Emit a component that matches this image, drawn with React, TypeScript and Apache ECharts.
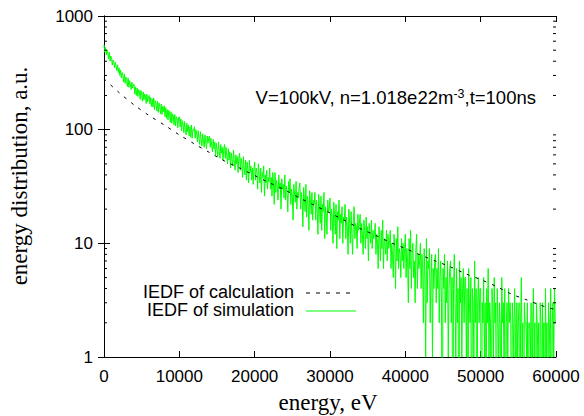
import React, { useEffect, useRef } from "react";
import * as echarts from "echarts";

// Simulation histogram: counts per 100 eV bin, from 0 eV to 60000 eV
const SIM_BIN_EV = 100;
const simCounts = [
  560, 480, 530, 455, 505, 470, 420, 480, 400, 445, 430, 370, 410, 395, 350, 392, 365, 330, 372, 318,
  350, 300, 335, 285, 318, 300, 262, 310, 255, 290, 276, 240, 285, 236, 270, 248, 226, 262, 232, 250,
  250, 205, 238, 200, 232, 196, 225, 215, 185, 222, 205, 178, 215, 182, 206, 200, 170, 205, 176, 194,
  200, 168, 192, 160, 186, 158, 190, 150, 180, 170, 146, 178, 142, 172, 160, 138, 168, 136, 160, 144,
  162, 130, 156, 126, 150, 122, 148, 140, 116, 144, 114, 138, 132, 110, 136, 108, 130, 126, 104, 128,
  130, 106, 124, 98, 120, 112, 94, 118, 100, 90, 114, 96, 110, 88, 106, 86, 110, 84, 100, 98,
  106, 84, 100, 92, 78, 98, 84, 74, 96, 82, 72, 92, 80, 70, 90, 78, 68, 88, 76, 84,
  88, 70, 84, 72, 64, 82, 68, 78, 60, 76, 66, 58, 78, 64, 56, 74, 62, 70, 54, 68,
  74, 56, 70, 58, 50, 68, 54, 64, 46, 62, 54, 48, 66, 52, 44, 60, 50, 58, 42, 56,
  62, 44, 56, 50, 38, 58, 46, 40, 54, 36, 52, 44, 34, 54, 42, 48, 36, 46, 33, 45,
  52, 36, 46, 42, 30, 50, 40, 34, 46, 28, 42, 38, 48, 26, 40, 34, 44, 30, 38, 35,
  46, 30, 38, 26, 42, 34, 22, 42, 28, 36, 32, 24, 40, 30, 34, 20, 37, 30, 33, 25,
  40, 24, 32, 28, 19, 35, 28, 37, 22, 30, 26, 16, 33, 27, 23, 35, 20, 28, 25, 31,
  34, 20, 28, 24, 14, 31, 25, 19, 33, 17, 26, 23, 13, 29, 24, 18, 28, 16, 24, 22,
  28, 16, 24, 20, 12, 27, 21, 15, 26, 13, 22, 19, 28, 11, 21, 18, 12, 24, 19, 20,
  25, 13, 20, 17, 10, 23, 18, 12, 22, 9, 19, 16, 24, 11, 18, 15, 21, 10, 17, 16,
  22, 11, 17, 14, 8, 20, 15, 10, 19, 12, 8, 16, 21, 11, 15, 14, 9, 18, 13, 15,
  18, 10, 15, 12, 8, 16, 13, 9, 17, 11, 14, 7, 15, 12, 10, 16, 9, 13, 11, 12,
  15, 8, 12, 10, 6, 14, 11, 7, 13, 9, 16, 6, 11, 10, 8, 13, 7, 12, 9, 10,
  13, 6, 10, 8, 5, 12, 9, 4, 11, 7, 14, 6, 9, 8, 5, 11, 7, 10, 6, 9,
  12, 5, 9, 7, 3, 11, 6, 13, 4, 8, 10, 5, 7, 3, 9, 12, 4, 8, 6, 7,
  10, 4, 8, 6, 2, 9, 5, 1, 11, 3, 7, 6, 9, 2, 5, 8, 1, 6, 4, 7,
  8, 3, 6, 4, 9, 2, 5, 7, 3, 0, 6, 4, 8, 2, 5, 3, 7, 1, 4, 6,
  7, 2, 5, 0, 4, 8, 3, 1, 6, 2, 4, 0, 7, 3, 5, 1, 4, 6, 2, 5,
  5, 1, 4, 0, 6, 3, 2, 5, 0, 4, 3, 1, 7, 2, 4, 0, 3, 5, 2, 4,
  4, 0, 3, 2, 5, 1, 3, 0, 4, 2, 6, 1, 3, 2, 0, 4, 3, 1, 5, 2,
  3, 0, 4, 2, 1, 3, 2, 0, 5, 2, 3, 1, 4, 0, 2, 3, 1, 4, 2, 3,
  2, 0, 3, 2, 1, 4, 2, 0, 3, 1, 2, 3, 0, 2, 5, 1, 2, 0, 3, 2,
  2, 1, 3, 0, 2, 2, 1, 3, 0, 2, 4, 1, 2, 0, 3, 2, 1, 2, 0, 3,
  2, 0, 3, 1, 2, 0, 4, 1, 2, 0, 3, 2, 1, 4, 0, 2, 3, 1, 4, 2,
  2,
];

// Calculated IEDF
const calcEnergy = [
  0, 2000, 4000, 6000, 8000, 10000, 12000, 14000, 16000, 18000,
  20000, 22000, 24000, 26000, 28000, 30000, 32000, 34000, 36000, 38000,
  40000, 42000, 44000, 46000, 48000, 50000, 52000, 54000, 56000, 58000, 60000,
];
const calcValues = [
  280, 212, 165, 133, 110, 90, 75, 63, 53, 46,
  39.5, 34, 29.5, 25, 21.5, 18.5, 15.8, 13.5, 11.8, 10.2,
  9.0, 7.9, 7.0, 6.2, 5.4, 4.8, 4.2, 3.6, 3.2, 2.85, 2.6,
];

const xTickValues = [0, 10000, 20000, 30000, 40000, 50000, 60000];
const yDecades = [1, 10, 100, 1000];

const SANS = "'Liberation Sans', Arial, Helvetica, sans-serif";
const SERIF = "'Liberation Serif', 'Times New Roman', serif";

export default function App() {
  const ref = useRef<HTMLDivElement>(null);

  useEffect(() => {
    if (!ref.current) return;
    const chart = echarts.init(ref.current, null, { renderer: "svg" });

    const simData = simCounts.map((c, i) => [i * SIM_BIN_EV, c > 0 ? c : 0.05]);
    const calcData = calcEnergy.map((e, i) => [e, calcValues[i]]);

    const minorTicks: number[][] = [];
    for (let d = 0; d < yDecades.length - 1; d++) {
      for (let k = 2; k <= 9; k++) minorTicks.push([0, yDecades[d] * k]);
    }

    const xMin = xTickValues[0];
    const xMax = xTickValues[xTickValues.length - 1];
    const yMin = yDecades[0];
    const yMax = yDecades[yDecades.length - 1];

    const axisLine = { show: true, lineStyle: { color: "#000", width: 1 } };
    const tick = { show: true, inside: true, length: 6, lineStyle: { color: "#000", width: 1 } };
    const plain = (v: number) => String(v);

    chart.setOption({
      animation: false,
      backgroundColor: "#fff",
      grid: { left: 104, right: 28, top: 16, bottom: 59, containLabel: false },
      xAxis: [
        {
          type: "value",
          min: xMin,
          max: xMax,
          interval: 10000,
          axisLine,
          axisTick: tick,
          splitLine: { show: false },
          axisLabel: { color: "#000", fontFamily: SANS, fontSize: 17, margin: 11, formatter: plain },
        },
        {
          type: "value",
          position: "top",
          min: xMin,
          max: xMax,
          interval: 10000,
          axisLine,
          axisTick: tick,
          splitLine: { show: false },
          axisLabel: { show: false },
        },
      ],
      yAxis: [
        {
          type: "log",
          logBase: 10,
          min: yMin,
          max: yMax,
          axisLine,
          axisTick: tick,
          splitLine: { show: false },
          axisLabel: { color: "#000", fontFamily: SANS, fontSize: 17, margin: 11, formatter: plain },
        },
        {
          type: "log",
          logBase: 10,
          position: "right",
          min: yMin,
          max: yMax,
          axisLine,
          axisTick: tick,
          splitLine: { show: false },
          axisLabel: { show: false },
        },
      ],
      series: [
        {
          type: "line",
          name: "IEDF of simulation",
          data: simData,
          showSymbol: false,
          symbol: "none",
          clip: true,
          lineStyle: { color: "#00ff00", width: 1 },
          z: 2,
        },
        {
          type: "line",
          name: "IEDF of calculation",
          data: calcData,
          showSymbol: false,
          symbol: "none",
          smooth: 0.3,
          clip: true,
          lineStyle: { color: "#000", width: 1, type: [3, 6] },
          z: 3,
        },
        {
          type: "custom",
          data: minorTicks,
          silent: true,
          clip: false,
          z: 4,
          renderItem: (params: any, api: any) => {
            const v = api.value(1);
            const l = api.coord([xMin, v]);
            const r = api.coord([xMax, v]);
            const s = { stroke: "#000", lineWidth: 1 };
            return {
              type: "group",
              children: [
                { type: "line", shape: { x1: l[0], y1: l[1], x2: l[0] + 3, y2: l[1] }, style: s },
                { type: "line", shape: { x1: r[0], y1: r[1], x2: r[0] - 3, y2: r[1] }, style: s },
              ],
            };
          },
        },
      ],
      graphic: [
        {
          type: "text",
          x: 536,
          y: 97,
          style: {
            text: "{a|V=100kV, n=1.018e22m}{s|-3}{a|,t=100ns}",
            align: "right",
            verticalAlign: "middle",
            rich: {
              a: { fontFamily: SANS, fontSize: 18.5, fill: "#000", lineHeight: 20 },
              s: { fontFamily: SANS, fontSize: 12.5, fill: "#000", lineHeight: 12, verticalAlign: "top" },
            },
          },
        },
        {
          type: "text",
          x: 294,
          y: 292,
          style: {
            text: "IEDF of calculation",
            align: "right",
            verticalAlign: "middle",
            fontFamily: SANS,
            fontSize: 18,
            lineHeight: 16,
            fill: "#000",
          },
        },
        {
          type: "text",
          x: 294,
          y: 310,
          style: {
            text: "IEDF of simulation",
            align: "right",
            verticalAlign: "middle",
            fontFamily: SANS,
            fontSize: 18,
            lineHeight: 16,
            fill: "#000",
          },
        },
        {
          type: "line",
          shape: { x1: 306, y1: 293, x2: 355, y2: 293 },
          style: { stroke: "#000", lineWidth: 1, lineDash: [4, 6] },
        },
        {
          type: "line",
          shape: { x1: 306, y1: 311, x2: 356, y2: 311 },
          style: { stroke: "#00ff00", lineWidth: 1.2 },
        },
        {
          type: "text",
          x: 328,
          y: 402,
          style: {
            text: "energy, eV",
            align: "center",
            verticalAlign: "middle",
            fontFamily: SERIF,
            fontSize: 23,
            fill: "#000",
          },
        },
        {
          type: "text",
          x: 19,
          y: 176,
          rotation: Math.PI / 2,
          style: {
            text: "energy distribution, a.u.",
            align: "center",
            verticalAlign: "middle",
            fontFamily: SERIF,
            fontSize: 23,
            fill: "#000",
          },
        },
      ],
    });

    return () => chart.dispose();
  }, []);

  return (
    <div
      ref={ref}
      style={{ position: "absolute", left: 0, top: 0, width: 584, height: 416 }}
    />
  );
}
